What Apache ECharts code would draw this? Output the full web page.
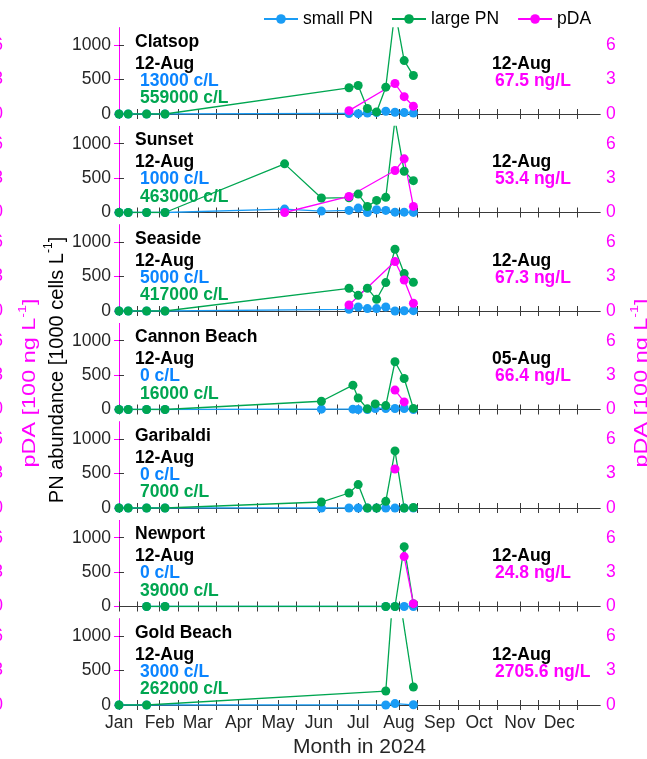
<!DOCTYPE html>
<html><head><meta charset="utf-8">
<script src="https://cdn.jsdelivr.net/npm/echarts@6/dist/echarts.min.js"></script>
<style>html,body{margin:0;padding:0;background:#fff}#c{width:647px;height:759px}</style>
</head><body><div id="c"></div>
<script>
const stations = ['Clatsop','Sunset','Seaside','Cannon Beach','Garibaldi','Newport','Gold Beach'];
const monthNames = ['Jan','Feb','Mar','Apr','May','Jun','Jul','Aug','Sep','Oct','Nov','Dec'];
const leftTicks = [0, 500, 1000];
const rightTicks = [0, 3, 6];
const tickDayOfMonth = [1, 15];

const pnDates = [
  ['01-01','01-08','01-22','02-05','06-24','07-01','07-08','07-15','07-22','07-29','08-05','08-12'],
  ['01-01','01-08','01-22','02-05','05-06','06-03','06-24','07-01','07-08','07-15','07-22','07-29','08-05','08-12'],
  ['01-01','01-08','01-22','02-05','06-24','07-01','07-08','07-15','07-22','07-29','08-05','08-12'],
  ['01-01','01-08','01-22','02-05','06-03','06-27','07-01','07-08','07-14','07-22','07-29','08-05','08-12'],
  ['01-01','01-08','01-22','02-05','06-03','06-24','07-01','07-08','07-15','07-22','07-29','08-05','08-12'],
  ['01-22','02-05','07-22','07-29','08-05','08-12'],
  ['01-01','01-22','07-22','07-29','08-12']
];
const smallPN = [
  [0,0,0,0,8,5,15,20,40,25,20,13],
  [0,0,0,0,50,20,30,64,0,40,30,5,5,1],
  [0,0,0,0,25,58,35,35,58,0,3,5],
  [0,0,0,0,5,5,0,0,15,15,15,15,0],
  [0,0,0,0,0,0,0,0,0,0,0,0,0],
  [0,0,0,0,0,0],
  [0,0,0,20,3]
];
const largePN = [
  [0,0,0,0,381,414,80,30,390,1500,776,559],
  [0,0,0,0,707,210,215,268,88,176,220,1350,600,463],
  [0,0,0,0,330,228,330,170,413,898,544,417],
  [0,0,0,0,120,354,167,10,81,57,694,450,16],
  [0,0,0,0,87,218,340,0,0,97,830,0,7],
  [0,0,0,0,870,39],
  [0,0,203,2000,262]
];
const pdaDates = [
  ['06-24','07-29','08-05','08-12'],
  ['05-06','06-24','07-29','08-05','08-12'],
  ['06-24','07-29','08-05','08-12'],
  ['07-29','08-05'],
  ['07-29'],
  ['08-05','08-12'],
  ['08-12']
];
const pdaValues = [
  [0.29,2.66,1.51,0.675],
  [0,1.40,3.66,4.68,0.534],
  [0.52,4.31,2.70,0.673],
  [1.69,0.664],
  [3.40],
  [4.35,0.248],
  [27.056]
];
const pnLabelDate = ['12-Aug','12-Aug','12-Aug','12-Aug','12-Aug','12-Aug','12-Aug'];
const smallLabel = ['13000 c/L','1000 c/L','5000 c/L','0 c/L','0 c/L','0 c/L','3000 c/L'];
const largeLabel = ['559000 c/L','463000 c/L','417000 c/L','16000 c/L','7000 c/L','39000 c/L','262000 c/L'];
const pdaLabelDate = ['12-Aug','12-Aug','12-Aug','05-Aug','','12-Aug','12-Aug'];
const pdaLabel = ['67.5 ng/L','53.4 ng/L','67.3 ng/L','66.4 ng/L','','24.8 ng/L','2705.6 ng/L'];

const FONT = "'Liberation Sans', Arial, Helvetica, sans-serif";
const BLUE = '#1a9cf5', BLUE_T = '#0a84ff', GREEN = '#00a651', MAG = '#ff00ff', AX = '#3a3a3a';
const t0 = Date.UTC(2024, 0, 1);
const dayOf = s => (Date.UTC(2024, +s.slice(0,2) - 1, +s.slice(3,5)) - t0) / 864e5;
const monthStarts = monthNames.map((m, k) => (Date.UTC(2024, k, 1) - t0) / 864e5);
const tickDays = [];
monthNames.forEach((m, k) => tickDayOfMonth.forEach(d => tickDays.push((Date.UTC(2024, k, d) - t0) / 864e5)));
const X_MAX = (Date.UTC(2025, 0, 1) - t0) / 864e5;

const G_LEFT = 119, G_W = 481, G_TOP = 28, G_PITCH = 98.5, G_H = 86;
const grid = [], xAxis = [], yAxis = [], series = [], graphic = [];
stations.forEach((name, i) => {
  const top = G_TOP + G_PITCH * i;
  grid.push({left: G_LEFT, width: G_W, top: top, height: G_H, containLabel: false, outerBoundsMode: 'none'});
  xAxis.push({type: 'value', gridIndex: i, min: 0, max: X_MAX, position: 'bottom',
    axisLine: {show: true, lineStyle: {color: AX, width: 1}},
    axisTick: {show: true, inside: true, length: 5, customValues: tickDays, lineStyle: {color: AX}},
    axisLabel: {show: i === stations.length - 1, customValues: monthStarts, margin: 9,
      formatter: v => monthNames[monthStarts.indexOf(v)] || '', color: '#262626', fontSize: 17.5, fontFamily: FONT},
    splitLine: {show: false}});
  xAxis.push({type: 'value', gridIndex: i, min: 0, max: X_MAX, position: 'top',
    axisLine: {show: true, lineStyle: {color: AX, width: 1}},
    axisTick: {show: true, inside: true, length: 5, customValues: tickDays, lineStyle: {color: AX}},
    axisLabel: {show: false}, splitLine: {show: false}});
  yAxis.push({type: 'value', gridIndex: i, min: 0, max: 1250, position: 'left',
    axisLine: {show: true, lineStyle: {color: AX, width: 1}},
    axisTick: {show: true, inside: true, length: 5, customValues: leftTicks, lineStyle: {color: AX}},
    axisLabel: {customValues: leftTicks, formatter: v => String(v), color: '#262626', fontSize: 17.5, fontFamily: FONT, margin: 8},
    splitLine: {show: false}});
  yAxis.push({type: 'value', gridIndex: i, min: 0, max: 7.5, position: 'right',
    axisLine: {show: true, lineStyle: {color: MAG, width: 1}},
    axisTick: {show: true, inside: true, length: 5, customValues: rightTicks, lineStyle: {color: MAG}},
    axisLabel: {customValues: rightTicks, formatter: v => String(v), color: MAG, fontSize: 17.5, fontFamily: FONT, margin: 6},
    splitLine: {show: false}});
  yAxis.push({type: 'value', gridIndex: i, min: 0, max: 7.5, position: 'left', offset: 108,
    axisLine: {show: false}, axisTick: {show: false},
    axisLabel: {customValues: rightTicks, formatter: v => String(v), color: MAG, fontSize: 17.5, fontFamily: FONT, margin: 8},
    splitLine: {show: false}});
  const pnX = pnDates[i].map(dayOf);
  const common = {type: 'line', xAxisIndex: 2 * i, symbol: 'circle', symbolSize: 9, clip: true,
    lineStyle: {width: 1.3}, emphasis: {disabled: true}, animation: false};
  series.push(Object.assign({}, common, {name: 'small PN', yAxisIndex: 3 * i, color: BLUE,
    data: pnX.map((x, k) => [x, smallPN[i][k]])}));
  series.push(Object.assign({}, common, {name: 'large PN', yAxisIndex: 3 * i, color: GREEN,
    data: pnX.map((x, k) => [x, largePN[i][k]])}));
  series.push(Object.assign({}, common, {name: 'pDA', yAxisIndex: 3 * i + 1, color: MAG,
    data: pdaDates[i].map((d, k) => [dayOf(d), pdaValues[i][k]])}));

  const txt = (x, y, text, fill) => ({type: 'text', x: x, y: y, z: 100, silent: true,
    style: {text: text, fill: fill, font: "bold 17.5px " + FONT, textAlign: 'left', textVerticalAlign: 'middle'}});
  graphic.push(txt(135, top + 14, name, '#000'));
  graphic.push(txt(135, top + 36, pnLabelDate[i], '#000'));
  graphic.push(txt(140, top + 53, smallLabel[i], BLUE_T));
  graphic.push(txt(140, top + 70.5, largeLabel[i], GREEN));
  if (pdaLabel[i]) {
    graphic.push(txt(492, top + 36, pdaLabelDate[i], '#000'));
    graphic.push(txt(495, top + 53, pdaLabel[i], MAG));
  }
});

const rot = (x, y, base, fill, fs, stretch) => ({type: 'text', x: x, y: y, rotation: Math.PI / 2,
  scaleX: stretch, silent: true,
  style: {text: '{a|' + base + '}{s|-1}{a|]}', textAlign: 'center', textVerticalAlign: 'middle',
    rich: {a: {fontSize: fs, fontFamily: FONT, fill: fill, lineHeight: fs + 4, verticalAlign: 'bottom'},
           s: {fontSize: Math.round(fs * 0.62), fontFamily: FONT, fill: fill, lineHeight: fs + 4, verticalAlign: 'top'}}}});
graphic.push(rot(55, 370, 'PN abundance [1000 cells L', '#000', 20, 1));
graphic.push(rot(28, 383, 'pDA [100 ng L', MAG, 18, 1.3));
graphic.push(rot(640, 383, 'pDA [100 ng L', MAG, 18, 1.3));
graphic.push({type: 'text', x: 359.5, y: 747, silent: true,
  style: {text: 'Month in 2024', fill: '#262626', font: "21px " + FONT, textAlign: 'center', textVerticalAlign: 'middle'}});

const chart = echarts.init(document.getElementById('c'), null, {renderer: 'canvas'});
chart.setOption({
  animation: false,
  backgroundColor: '#fff',
  legend: {top: 5, left: 258, itemWidth: 34, itemHeight: 12, itemGap: 18,
    data: ['small PN', 'large PN', 'pDA'],
    textStyle: {fontSize: 17.5, fontFamily: FONT, color: '#000'}},
  grid: grid, xAxis: xAxis, yAxis: yAxis, series: series, graphic: graphic
});
</script></body></html>
